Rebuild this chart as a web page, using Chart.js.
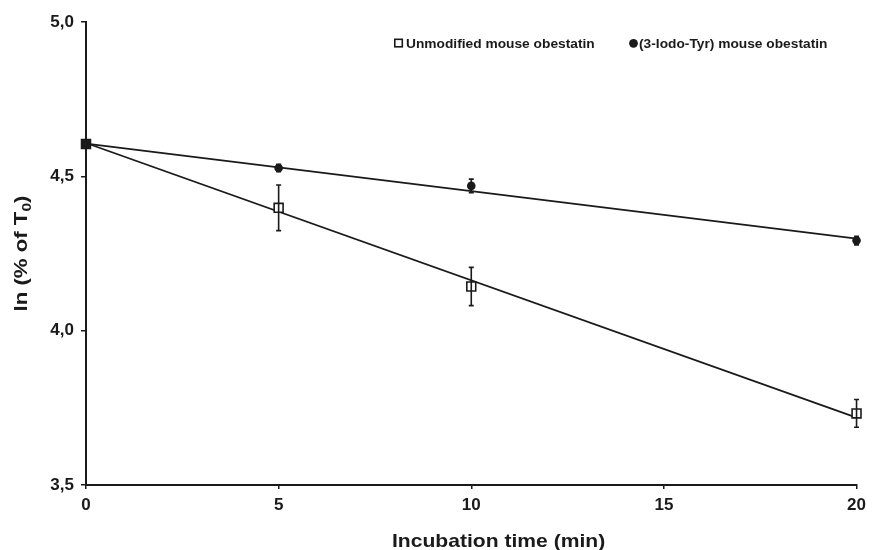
<!DOCTYPE html>
<html>
<head>
<meta charset="utf-8">
<script src="https://cdn.jsdelivr.net/npm/chart.js@4/dist/chart.umd.min.js"></script>
<style>
  body { margin: 0; background: #fff; }
  #wrap { width: 872px; height: 550px; }
</style>
</head>
<body>
<div id="wrap"><canvas id="grafico" width="872" height="550"></canvas></div>
<script>
// ---- data ----
const tempos = [0, 5, 10, 20];                       // incubation time (min)
const naoModificada = [4.605, 4.398, 4.143, 3.732];  // unmodified mouse obestatin
const naoModificadaErro = [0, 0.074, 0.062, 0.045];
const iodada = [4.605, 4.527, 4.469, 4.292];         // (3-Iodo-Tyr) mouse obestatin
const iodadaErro = [0, 0.012, 0.022, 0.014];

// regression lines (end points at t = 0 and t = 20)
const retaX = [0, 20];
const retaNaoModificada = [4.608, 3.718];
const retaIodada = [4.606, 4.298];

const ticksX = [0, 5, 10, 15, 20];
const ticksY = [3.5, 4.0, 4.5, 5.0];

const legendaTextos = ['Unmodified mouse obestatin', '(3-Iodo-Tyr) mouse obestatin'];
const tituloX = 'Incubation time (min)';

const PRETO = '#1a1a1a';
const FONTE = '"Liberation Sans", Arial, sans-serif';

const pontos = (xs, ys) => xs.map((x, i) => ({ x: x, y: ys[i] }));

// barras de erro
const pluginErro = {
  id: 'barrasErro',
  afterDatasetsDraw(chart) {
    const ctx = chart.ctx;
    const sx = chart.scales.x, sy = chart.scales.y;
    ctx.save();
    ctx.strokeStyle = PRETO;
    ctx.lineWidth = 1.6;
    [[naoModificada, naoModificadaErro], [iodada, iodadaErro]].forEach(([vals, errs]) => {
      vals.forEach((v, i) => {
        if (!errs[i]) return;
        const px = sx.getPixelForValue(tempos[i]);
        const top = sy.getPixelForValue(v + errs[i]);
        const bot = sy.getPixelForValue(v - errs[i]);
        ctx.beginPath();
        ctx.moveTo(px, top); ctx.lineTo(px, bot);
        ctx.moveTo(px - 2.5, top); ctx.lineTo(px + 2.5, top);
        ctx.moveTo(px - 2.5, bot); ctx.lineTo(px + 2.5, bot);
        ctx.stroke();
      });
    });
    ctx.restore();
  }
};

// legenda e titulos dos eixos (texto um pouco esticado como no original)
const pluginTextos = {
  id: 'textos',
  afterDraw(chart) {
    const ctx = chart.ctx;
    const area = chart.chartArea;
    ctx.save();
    ctx.fillStyle = PRETO;
    ctx.textBaseline = 'alphabetic';

    // legenda
    ctx.font = 'bold 12.5px ' + FONTE;
    ctx.strokeStyle = PRETO;
    ctx.lineWidth = 1.6;
    ctx.strokeRect(394.8, 39.3, 7.5, 7.5);
    ctx.save();
    ctx.translate(406, 48); ctx.scale(1.1, 1);
    ctx.fillText(legendaTextos[0], 0, 0);
    ctx.restore();
    ctx.beginPath();
    ctx.arc(633.5, 43.3, 4.4, 0, Math.PI * 2);
    ctx.fill();
    ctx.save();
    ctx.translate(639, 48); ctx.scale(1.1, 1);
    ctx.fillText(legendaTextos[1], 0, 0);
    ctx.restore();

    // titulo X
    ctx.font = 'bold 18.5px ' + FONTE;
    ctx.save();
    ctx.translate(392, 547); ctx.scale(1.14, 1);
    ctx.fillText(tituloX, 0, 0);
    ctx.restore();

    // titulo Y: ln (% of T0)
    ctx.save();
    ctx.translate(27, (area.top + area.bottom) / 2);
    ctx.rotate(-Math.PI / 2);
    ctx.scale(1.2, 1);
    const p1 = 'ln (% of T', sub = '0', p2 = ')';
    ctx.font = 'bold 18.5px ' + FONTE;
    const w1 = ctx.measureText(p1).width, w3 = ctx.measureText(p2).width;
    ctx.font = 'bold 13px ' + FONTE;
    const w2 = ctx.measureText(sub).width;
    let x = -(w1 + w2 + w3) / 2;
    ctx.font = 'bold 18.5px ' + FONTE;
    ctx.fillText(p1, x, 0); x += w1;
    ctx.font = 'bold 13px ' + FONTE;
    ctx.fillText(sub, x, 4); x += w2;
    ctx.font = 'bold 18.5px ' + FONTE;
    ctx.fillText(p2, x, 0);
    ctx.restore();

    ctx.restore();
  }
};

const ctx = document.getElementById('grafico').getContext('2d');
new Chart(ctx, {
  type: 'scatter',
  data: {
    datasets: [
      {
        label: legendaTextos[0],
        data: pontos(tempos, naoModificada),
        pointStyle: 'rect',
        pointRadius: 6.3,
        pointBorderWidth: 1.6,
        pointBorderColor: PRETO,
        pointBackgroundColor: [PRETO, '#fff', '#fff', '#fff'],
        showLine: false,
        clip: false,
        order: 1
      },
      {
        label: legendaTextos[1],
        data: pontos(tempos, iodada),
        pointStyle: 'circle',
        pointRadius: 4.3,
        pointBorderWidth: 0,
        pointBackgroundColor: PRETO,
        showLine: false,
        clip: false,
        order: 0
      },
      {
        label: 'fit unmodified',
        data: pontos(retaX, retaNaoModificada),
        showLine: true,
        borderColor: PRETO,
        borderWidth: 1.8,
        pointRadius: 0,
        clip: false,
        order: 2
      },
      {
        label: 'fit iodo',
        data: pontos(retaX, retaIodada),
        showLine: true,
        borderColor: PRETO,
        borderWidth: 1.8,
        pointRadius: 0,
        clip: false,
        order: 2
      }
    ]
  },
  options: {
    responsive: false,
    animation: false,
    layout: { padding: { top: 22, right: 14, bottom: 0, left: 0 } },
    plugins: {
      legend: { display: false },
      tooltip: { enabled: false }
    },
    scales: {
      x: {
        type: 'linear',
        min: 0, max: 20,
        afterBuildTicks: (s) => { s.ticks = ticksX.map(v => ({ value: v })); },
        afterFit: (s) => { s.height = 65; },
        grid: { drawOnChartArea: false, color: PRETO, tickLength: 4, lineWidth: 1.5 },
        border: { color: PRETO, width: 2 },
        ticks: {
          color: PRETO,
          padding: 6,
          font: { family: FONTE, size: 17, weight: 'bold' }
        }
      },
      y: {
        min: 3.5, max: 5.0,
        afterBuildTicks: (s) => { s.ticks = ticksY.map(v => ({ value: v })); },
        afterFit: (s) => { s.width = 86; },
        grid: { drawOnChartArea: false, color: PRETO, tickLength: 5, lineWidth: 1.5 },
        border: { color: PRETO, width: 2 },
        ticks: {
          color: PRETO,
          padding: 7,
          font: { family: FONTE, size: 17, weight: 'bold' },
          callback: (v) => v.toFixed(1).replace('.', ',')
        }
      }
    }
  },
  plugins: [pluginErro, pluginTextos]
});
</script>
</body>
</html>
